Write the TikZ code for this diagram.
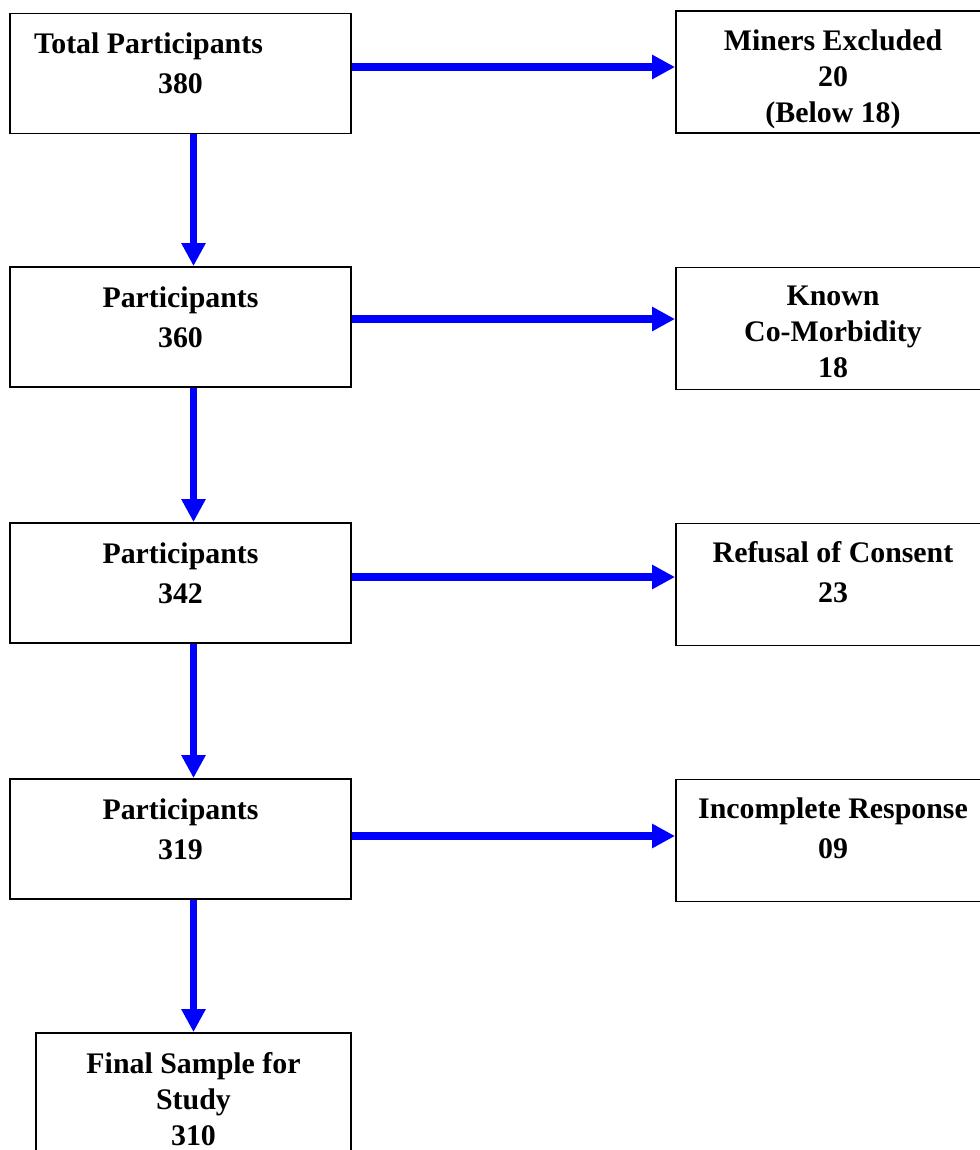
\documentclass[tikz,border=0pt]{standalone}
\usepackage{fontspec}
\setmainfont{Liberation Serif}
\usetikzlibrary{arrows.meta,positioning}

\begin{document}
\begin{tikzpicture}[x=0.02cm, y=-0.02cm,
	every node/.style={font=\fontsize{17}{20.5}\selectfont\bfseries},
	stage/.style={rectangle, draw=black, line width=1.1pt, minimum width=6.82cm, minimum height=2.4cm},
	excluded/.style={rectangle, draw=black, line width=1.1pt, minimum width=6.28cm, minimum height=2.44cm},
	boxtext/.style={anchor=north, align=center, inner sep=0pt, node distance=0.4cm},
	flow/.style={draw=blue, line width=0.15cm, -{Triangle[length=0.46cm, width=0.46cm]}}
	]

\clip (0,0) rectangle (980,1150);

% Participants at each stage
\node [stage] (total) at (180.5,73.5) {};
\node [stage] (part1) at (180.5,327) {};
\node [stage] (part2) at (180.5,583) {};
\node [stage] (part3) at (180.5,839) {};
\node [stage, minimum width=6.3cm, minimum height=2.74cm] (final) at (193.5,1101.5) {};

\node [boxtext, below=of total.north] (totaltxt) {Total Participants\makebox[1.28cm]{}\\[2.3pt]380};
\node [boxtext, below=of part1.north] (part1txt) {Participants\\[2.3pt]360};
\node [boxtext, below=of part2.north] (part2txt) {Participants\\[2.3pt]342};
\node [boxtext, below=of part3.north] (part3txt) {Participants\\[2.3pt]319};
\node [boxtext, below=of final.north] (finaltxt) {Final Sample for\\Study\\310};

% Excluded participants
\node [excluded] (miners) at (833,72) {};
\node [excluded] (comorb) at (833,328.5) {};
\node [excluded] (refusal) at (833,584.5) {};
\node [excluded] (incomplete) at (833,840.5) {};

\node [boxtext, below=0.38cm of miners.north] (minerstxt) {Miners Excluded\\20\\(Below 18)};
\node [boxtext, below=0.38cm of comorb.north] (comorbtxt) {Known\\Co-Morbidity\\18};
\node [boxtext, below=0.38cm of refusal.north] (refusaltxt) {Refusal of Consent\\[2.3pt]23};
\node [boxtext, below=0.38cm of incomplete.north] (incompletetxt) {Incomplete Response\\[2.3pt]09};

% Flow down
\draw [flow] (total.south -| final.north) -- (part1.north -| final.north);
\draw [flow] (part1.south -| final.north) -- (part2.north -| final.north);
\draw [flow] (part2.south -| final.north) -- (part3.north -| final.north);
\draw [flow] (part3.south -| final.north) -- (final.north);

% Exclusions
\draw [flow] ([yshift=0.13cm]total.east) -- ([yshift=0.13cm]total.east -| miners.west);
\draw [flow] ([yshift=0.16cm]part1.east) -- ([yshift=0.16cm]part1.east -| comorb.west);
\draw [flow] ([yshift=0.12cm]part2.east) -- ([yshift=0.12cm]part2.east -| refusal.west);
\draw [flow] ([yshift=0.06cm]part3.east) -- ([yshift=0.06cm]part3.east -| incomplete.west);

\end{tikzpicture}
\end{document}
